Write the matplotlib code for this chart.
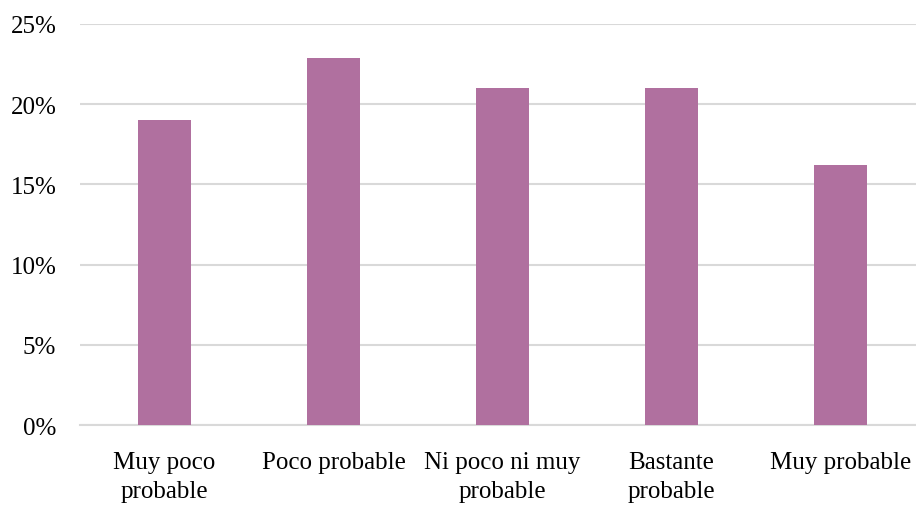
import matplotlib
matplotlib.use('Agg')
import matplotlib.pyplot as plt
from matplotlib.ticker import FuncFormatter

categories = ['Muy poco\nprobable', 'Poco probable', 'Ni poco ni muy\nprobable',
              'Bastante\nprobable', 'Muy probable']
values = [19.0, 22.9, 21.0, 21.0, 16.2]

plt.rcParams['font.family'] = ['Liberation Serif', 'DejaVu Serif']

fig = plt.figure(figsize=(9.16, 5.06), dpi=100)
# plot area runs a little past the right edge of the picture, as in the original
ax = fig.add_axes([0.0873, 0.158, 0.9225, 0.7926])

x = range(len(categories))
ax.bar(x, values, width=0.315, color='#B0709F', zorder=3)

ax.set_ylim(0, 25)
ax.set_xlim(-0.5, len(categories) - 0.5)
ax.set_yticks([0, 5, 10, 15, 20, 25])
ax.yaxis.set_major_formatter(FuncFormatter(lambda v, p: '%d%%' % v))
ax.set_xticks(list(x))
ax.set_xticklabels(categories, fontsize=18, linespacing=1.4)
ax.tick_params(axis='y', labelsize=18, length=0, pad=17)
ax.tick_params(axis='x', length=0, pad=19)
ax.grid(axis='y', color='#D9D9D9', linewidth=1.5, zorder=0)

for s in ['top', 'right', 'left']:
    ax.spines[s].set_visible(False)
ax.spines['bottom'].set_color('#D9D9D9')
ax.spines['bottom'].set_linewidth(1.5)

fig.savefig('out.png', dpi=100)
